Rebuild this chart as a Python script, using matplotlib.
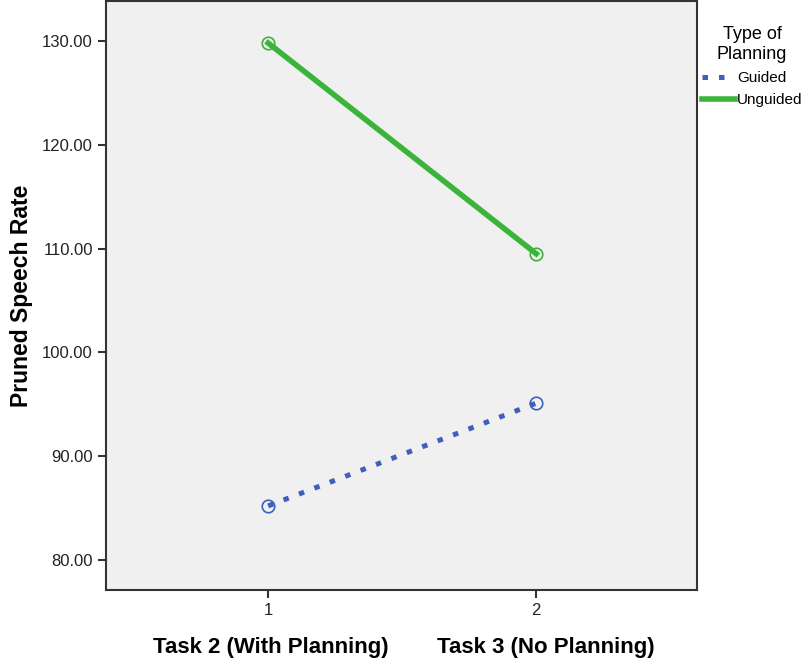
import matplotlib
matplotlib.use("Agg")
import matplotlib.pyplot as plt

plt.rcParams['font.family'] = ['Liberation Sans', 'DejaVu Sans']

# data
tasks = [1, 2]
guided = [85.2, 95.1]
unguided = [129.8, 109.5]
yticks = [80, 90, 100, 110, 120, 130]
task_names = ['Task 2 (With Planning)', 'Task 3 (No Planning)']

fig = plt.figure(figsize=(8.06, 6.62), dpi=100)
ax = fig.add_axes([0.1315, 0.1088, 0.7333, 0.8897])
ax.set_facecolor('#f0f0f0')

blue = '#3f5fbf'
green = '#3cb43c'
ax.plot(tasks, guided, color=blue, lw=3.6, linestyle=(0, (1.1, 2.2)), label='Guided')
ax.plot(tasks, unguided, color=green, lw=4, label='Unguided')
ax.plot(tasks, guided, 'o', mfc='none', mec=blue, ms=9, mew=1.2)
ax.plot(tasks, unguided, 'o', mfc='none', mec=green, ms=9, mew=1.2)

ax.set_xlim(0.395, 2.6)
ax.set_ylim(77.1, 133.85)
ax.set_xticks(tasks)
ax.set_yticks(yticks)
ax.set_yticklabels(['%.2f' % v for v in yticks])
ax.tick_params(labelsize=12, length=6, width=1.5, color='#333333', labelcolor='#222222')
for s in ax.spines.values():
    s.set_linewidth(1.5)
    s.set_color('#333333')

# x label: two category names under the axis
fig.text(153 / 806, 1 - 648 / 662, task_names[0], fontsize=16, fontweight='bold',
         ha='left', va='center')
fig.text(437 / 806, 1 - 648 / 662, task_names[1], fontsize=16, fontweight='bold',
         ha='left', va='center')
ax.set_ylabel('Pruned Speech Rate', fontsize=16.5, fontweight='bold')
ax.yaxis.set_label_coords(-0.124, 0.5)

leg = ax.legend(title='Type of\nPlanning', loc='upper left', bbox_to_anchor=(1.003, 0.962),
                frameon=False, fontsize=11, title_fontsize=13, handlelength=2.2,
                handletextpad=0.1, labelspacing=0.5, borderaxespad=0, borderpad=0.2)
leg._legend_box.align = 'center'
leg._legend_box.sep = 6
leg.get_title().set_multialignment('center')

fig.savefig('out.png', dpi=100)
